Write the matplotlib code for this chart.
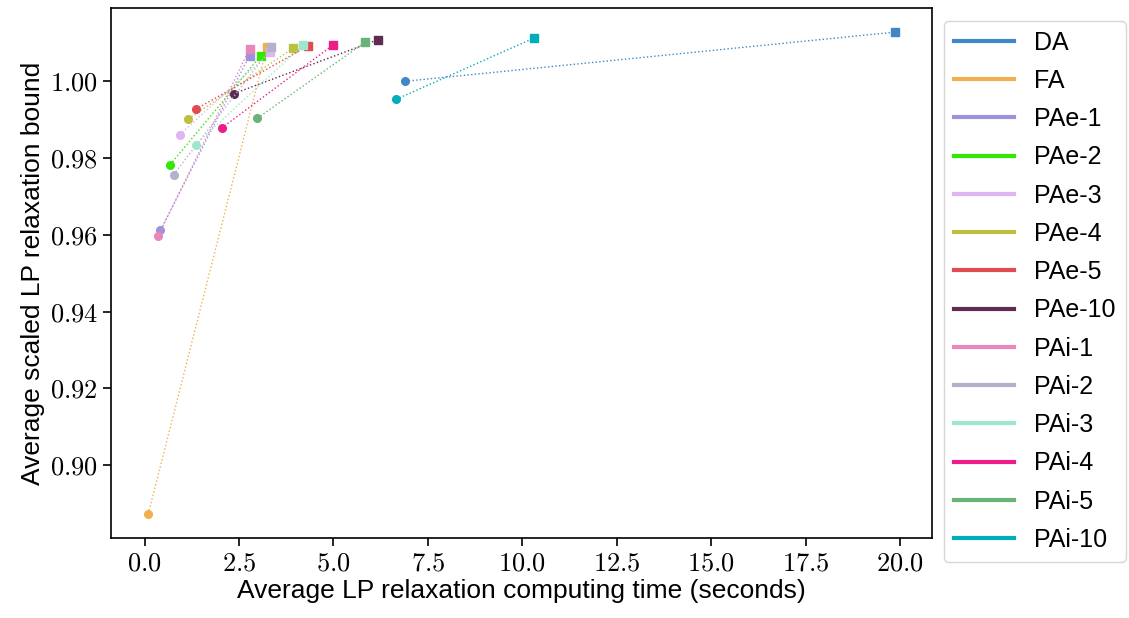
import matplotlib
matplotlib.use('Agg')
import matplotlib.pyplot as plt
from matplotlib.lines import Line2D
from matplotlib.ticker import FuncFormatter

plt.rcParams['font.family'] = ['Liberation Sans', 'DejaVu Sans']
plt.rcParams['mathtext.fontset'] = 'cm'

# 방법 이름과 색
methods = ['DA', 'FA', 'PAe-1', 'PAe-2', 'PAe-3', 'PAe-4', 'PAe-5', 'PAe-10',
           'PAi-1', 'PAi-2', 'PAi-3', 'PAi-4', 'PAi-5', 'PAi-10']
colors = ['#3f88c5', '#f2af50', '#9a94dc', '#33e800', '#e0b5f5', '#bcc040', '#e04a50',
          '#5e2b52', '#e887bb', '#b2b2cc', '#9ee6cc', '#ee1c88', '#6ab378', '#00adbc']

# 원 마커 (시간, bound)
circle_time = [6.90, 0.10, 0.42, 0.68, 0.93, 1.16, 1.35, 2.37,
               0.36, 0.77, 1.35, 2.04, 2.99, 6.66]
circle_bound = [1.0000, 0.8873, 0.9612, 0.9783, 0.9861, 0.9902, 0.9927, 0.9968,
                0.9597, 0.9757, 0.9835, 0.9878, 0.9904, 0.9953]

# 네모 마커 (시간, bound)
square_time = [19.86, 3.24, 2.78, 3.08, 3.33, 3.93, 4.33, 6.17,
               2.78, 3.36, 4.19, 5.00, 5.83, 10.30]
square_bound = [1.0128, 1.0090, 1.0067, 1.0067, 1.0075, 1.0086, 1.0092, 1.0108,
                1.0084, 1.0088, 1.0094, 1.0095, 1.0101, 1.0112]

fig, ax = plt.subplots(figsize=(11.29, 6.18), dpi=100)
fig.subplots_adjust(left=0.0983, right=0.8255, top=0.987, bottom=0.1294)

for i in range(len(methods)):
    c = colors[i]
    ax.plot([circle_time[i], square_time[i]], [circle_bound[i], square_bound[i]],
            linestyle=':', linewidth=1, color=c)
    ax.plot(circle_time[i], circle_bound[i], 'o', color=c, markersize=5.5)
    ax.plot(square_time[i], square_bound[i], 's', color=c, markersize=5.5)

ax.xaxis.set_major_formatter(FuncFormatter(lambda v, _: f'${v:.1f}$'))
ax.yaxis.set_major_formatter(FuncFormatter(lambda v, _: f'${v:.2f}$'))
ax.set_xticks([0, 2.5, 5, 7.5, 10, 12.5, 15, 17.5, 20])
ax.set_yticks([0.90, 0.92, 0.94, 0.96, 0.98, 1.00])
ax.tick_params(labelsize=19, length=6, width=1.2)
for s in ax.spines.values():
    s.set_linewidth(1.2)

ax.set_xlabel('Average LP relaxation computing time (seconds)', fontsize=19, labelpad=3)
ax.set_ylabel('Average scaled LP relaxation bound', fontsize=19, labelpad=3)

handles = [Line2D([0], [0], color=c, linewidth=3) for c in colors]
ax.legend(handles, methods, loc='upper left', bbox_to_anchor=(1.0, 1.0),
          fontsize=18, handlelength=2.4, handletextpad=0.8, labelspacing=0.57,
          borderpad=0.4, borderaxespad=0.5)

plt.savefig('out.png', dpi=100)
